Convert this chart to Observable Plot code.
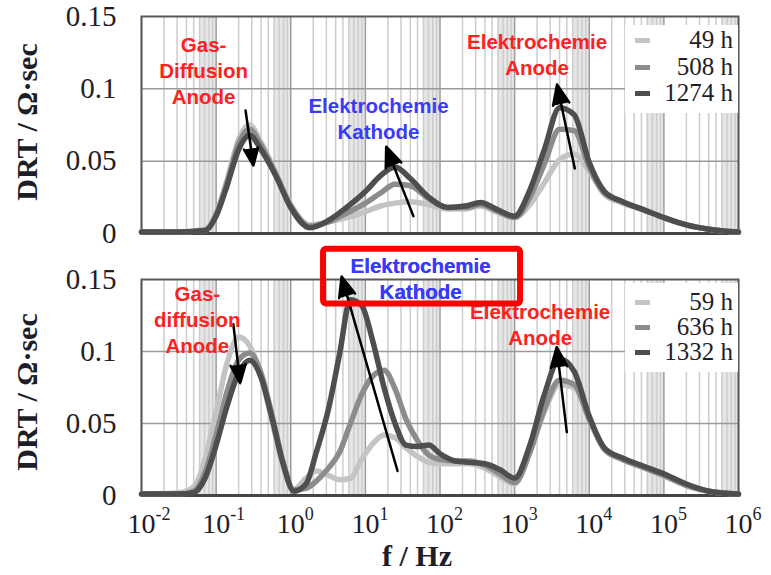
<!DOCTYPE html>
<html><head><meta charset="utf-8">
<script src="https://cdn.jsdelivr.net/npm/d3@7"></script>
<script src="https://cdn.jsdelivr.net/npm/@observablehq/plot@0.6"></script>
<style>
body{margin:0;background:#fff;}
#wrap{position:relative;width:771px;height:575px;overflow:hidden;font-family:"Liberation Serif",serif;color:#1e1e28;}
.panel{position:absolute;left:0;}
.ylab{position:absolute;font-weight:bold;font-size:30px;white-space:nowrap;transform:translate(-50%,-50%) rotate(-90deg);}
.xlab{position:absolute;font-weight:bold;font-size:30px;white-space:nowrap;transform:translate(-50%,-50%);}
.legend{position:absolute;background:#fff;left:625px;width:113px;}
.sw{position:absolute;left:10px;width:15px;height:5px;}
.lt{position:absolute;right:5px;font-size:25px;line-height:26px;transform:translateY(-50%);white-space:nowrap;}
</style></head>
<body><div id="wrap"></div>
<script>
// ---- data ----
const decadeHz = [0.01, 0.1, 1, 10, 100, 1000, 1e4, 1e5, 1e6];
const tickExp = ["-2", "-1", "0", "1", "2", "3", "4", "5", "6"];
const yTicks = [0, 0.05, 0.1, 0.15];

const topNames = ["49 h", "508 h", "1274 h"];
const botNames = ["59 h", "636 h", "1332 h"];
const seriesColors = ["#c4c4c4", "#8c8c8c", "#4e4e4e"];

const fTop = [0.01, 0.032, 0.071, 0.1, 0.14, 0.2, 0.28, 0.4, 0.63, 1, 1.8, 3.2, 5.6, 10, 16, 25, 40, 71, 125, 220, 350, 560, 1000, 1600, 2500, 4000, 6300, 10000, 16000, 28000, 56000, 1e5, 2e5, 4e5, 1e6];
const top49 = [0.001, 0.001, 0.003, 0.014, 0.037, 0.065, 0.075, 0.063, 0.042, 0.02, 0.006, 0.008, 0.011, 0.015, 0.019, 0.021, 0.022, 0.02, 0.017, 0.017, 0.019, 0.015, 0.011, 0.02, 0.035, 0.051, 0.055, 0.043, 0.027, 0.021, 0.016, 0.011, 0.006, 0.003, 0.001];
const top508 = [0.001, 0.001, 0.002, 0.013, 0.035, 0.062, 0.072, 0.061, 0.041, 0.019, 0.005, 0.008, 0.014, 0.021, 0.028, 0.034, 0.033, 0.024, 0.018, 0.018, 0.02, 0.016, 0.011, 0.025, 0.048, 0.072, 0.071, 0.046, 0.028, 0.022, 0.016, 0.011, 0.006, 0.003, 0.001];
const top1274 = [0.001, 0.001, 0.002, 0.012, 0.033, 0.058, 0.068, 0.058, 0.04, 0.018, 0.004, 0.009, 0.018, 0.029, 0.04, 0.046, 0.038, 0.025, 0.018, 0.019, 0.0215, 0.017, 0.012, 0.03, 0.058, 0.087, 0.082, 0.049, 0.029, 0.022, 0.016, 0.011, 0.006, 0.003, 0.001];

const fBot = [0.01, 0.032, 0.05, 0.071, 0.1, 0.14, 0.2, 0.28, 0.4, 0.56, 0.79, 1.1, 1.6, 2.2, 3.2, 4.5, 6.3, 8.9, 12.6, 17.8, 25, 35, 50, 71, 100, 160, 250, 400, 630, 1000, 1600, 2500, 4000, 6300, 10000, 16000, 28000, 56000, 1e5, 2e5, 4e5, 1e6];
const bot59 = [0.001, 0.002, 0.006, 0.025, 0.058, 0.092, 0.11, 0.104, 0.083, 0.052, 0.02, 0.004, 0.012, 0.017, 0.014, 0.011, 0.012, 0.025, 0.036, 0.042, 0.04, 0.033, 0.027, 0.023, 0.022, 0.022, 0.022, 0.019, 0.013, 0.008, 0.03, 0.058, 0.077, 0.075, 0.053, 0.032, 0.025, 0.019, 0.014, 0.007, 0.003, 0.001];
const bot636 = [0.001, 0.001, 0.003, 0.016, 0.042, 0.072, 0.094, 0.099, 0.085, 0.056, 0.023, 0.004, 0.005, 0.01, 0.019, 0.03, 0.05, 0.07, 0.083, 0.087, 0.074, 0.053, 0.038, 0.028, 0.025, 0.024, 0.024, 0.021, 0.015, 0.009, 0.03, 0.06, 0.08, 0.077, 0.053, 0.032, 0.025, 0.019, 0.014, 0.007, 0.003, 0.001];
const bot1332 = [0.001, 0.001, 0.002, 0.012, 0.035, 0.062, 0.085, 0.094, 0.082, 0.054, 0.022, 0.003, 0.008, 0.03, 0.06, 0.098, 0.136, 0.132, 0.107, 0.075, 0.05, 0.035, 0.034, 0.035, 0.029, 0.024, 0.023, 0.022, 0.018, 0.012, 0.035, 0.07, 0.095, 0.086, 0.055, 0.033, 0.026, 0.02, 0.015, 0.008, 0.003, 0.001];

// annotations (data units: Hz, DRT)
const topLabels = [
  {f: 0.068, v: 0.113, text: "Gas-\nDiffusion\nAnode", color: "#ff2020"},
  {f: 15, v: 0.080, text: "Elektrochemie\nKathode", color: "#3a3aff"},
  {f: 2000, v: 0.124, text: "Elektrochemie\nAnode", color: "#ff2020"}
];
const topArrows = [
  {f1: 0.248, v1: 0.085, f2: 0.316, v2: 0.047},
  {f1: 44, v1: 0.012, f2: 19, v2: 0.060},
  {f1: 6400, v1: 0.045, f2: 3700, v2: 0.103}
];
const botLabels = [
  {f: 0.056, v: 0.123, text: "Gas-\ndiffusion\nAnode", color: "#ff2020"},
  {f: 55, v: 0.151, text: "Elektrochemie\nKathode", color: "#3a3aff"},
  {f: 2200, v: 0.119, text: "Elektrochemie\nAnode", color: "#ff2020"}
];
const botArrows = [
  {f1: 0.17, v1: 0.119, f2: 0.21, v2: 0.078},
  {f1: 27, v1: 0.017, f2: 4.8, v2: 0.152},
  {f1: 5000, v1: 0.044, f2: 3660, v2: 0.103}
];
const botBox = [{f1: 2.75, f2: 1200, v1: 0.133, v2: 0.171}];

// ---- drawing ----
const minorHz = decadeHz.slice(0, -1).flatMap(d => [2, 3, 4, 5, 6, 7, 8, 9].map(m => m * d));
const bands = decadeHz.slice(0, -1).map(d => ({x1: 6 * d, x2: 10 * d}));

function panel({f, series, names, height, marginTop, marginBottom, labels, arrows, box, xTicks}) {
  const rows = [];
  series.forEach((s, i) => s.forEach((v, j) => rows.push({f: f[j], v, name: names[i]})));
  const textOpts = {x: "f", y: "v", text: "text", fill: "color", fontSize: 20.5, fontWeight: "bold",
    fontFamily: "Liberation Sans", lineHeight: 1.27};
  const marks = [
    Plot.rect(bands, {x1: "x1", x2: "x2", y1: 0, y2: 0.15, fill: "#e6e6e6"}),
    Plot.ruleX(minorHz, {stroke: "#cdcdcd", strokeWidth: 1.5}),
    Plot.ruleX(decadeHz, {stroke: "#9c9c9c", strokeWidth: 1.5}),
    Plot.ruleY([0.05, 0.1], {stroke: "#9a9a9a", strokeWidth: 1.5}),
    Plot.frame({stroke: "#5a5a5a", strokeWidth: 2}),
    Plot.ruleY([0], {stroke: "#444", strokeWidth: 3}),
    Plot.axisY(yTicks, {tickSize: 0, tickPadding: 25, fontSize: 29, fill: "#1e1e28",
      tickFormat: d => d === 0 ? "0" : String(d)}),
    Plot.line(rows, {x: "f", y: "v", z: "name", stroke: "name", strokeWidth: 5.5, curve: "monotone-x",
      strokeLinejoin: "round", strokeLinecap: "round"}),
    Plot.arrow(arrows, {x1: "f1", y1: "v1", x2: "f2", y2: "v2", stroke: "#000", fill: "#000", strokeWidth: 2.5,
      headLength: 13, headAngle: 45}),
    Plot.text(labels, textOpts)
  ];
  if (box) marks.push(Plot.rect(box, {x1: "f1", x2: "f2", y1: "v1", y2: "v2", fill: "none",
      stroke: "#ff0000", strokeWidth: 6, rx: 3}));
  if (box) marks.push(Plot.text(labels.slice(1, 2), textOpts));
  if (xTicks) {
    marks.push(Plot.text(decadeHz, {x: d => d, y: 0, text: () => "10", dy: 29, fontSize: 28, fill: "#1e1e28"}));
    marks.push(Plot.text(decadeHz, {x: d => d, y: 0, text: (d, i) => tickExp[i], dx: 14, dy: 19,
      fontSize: 18, textAnchor: "start", fill: "#1e1e28"}));
  }
  return Plot.plot({
    width: 771, height, marginLeft: 141, marginRight: 33, marginTop, marginBottom,
    x: {type: "log", domain: [0.01, 1e6], axis: null},
    y: {domain: [0, 0.15], axis: null},
    color: {domain: names, range: seriesColors},
    style: {fontFamily: "Liberation Serif", background: "transparent", overflow: "visible"},
    marks
  });
}

const wrap = document.getElementById("wrap");
function place(node, top) { node.classList.add("panel"); node.style.top = top + "px"; wrap.appendChild(node); }

place(panel({f: fTop, series: [top49, top508, top1274], names: topNames, height: 245, marginTop: 16, marginBottom: 12,
  labels: topLabels, arrows: topArrows}), 0);
place(panel({f: fBot, series: [bot59, bot636, bot1332], names: botNames, height: 330, marginTop: 34, marginBottom: 80,
  labels: botLabels, arrows: botArrows, box: botBox, xTicks: true}), 245);

function legend(names, top, rowY) {
  const div = document.createElement("div");
  div.className = "legend";
  div.style.top = top + "px";
  div.style.height = (rowY[2] - top + 20) + "px";
  names.forEach((n, i) => {
    const sw = document.createElement("div");
    sw.className = "sw"; sw.style.background = seriesColors[i]; sw.style.top = (rowY[i] - top - 2) + "px";
    const t = document.createElement("div");
    t.className = "lt"; t.textContent = n; t.style.top = (rowY[i] - top) + "px";
    div.appendChild(sw); div.appendChild(t);
  });
  wrap.appendChild(div);
}
legend(topNames, 25, [40, 67, 93]);
legend(botNames, 283, [302, 327, 352]);

function label(cls, text, x, y) {
  const d = document.createElement("div");
  d.className = cls; d.textContent = text; d.style.left = x + "px"; d.style.top = y + "px";
  wrap.appendChild(d);
}
label("ylab", "DRT / Ω·sec", 27, 122);
label("ylab", "DRT / Ω·sec", 27, 392);
label("xlab", "f / Hz", 417, 556);
</script>
</body></html>
